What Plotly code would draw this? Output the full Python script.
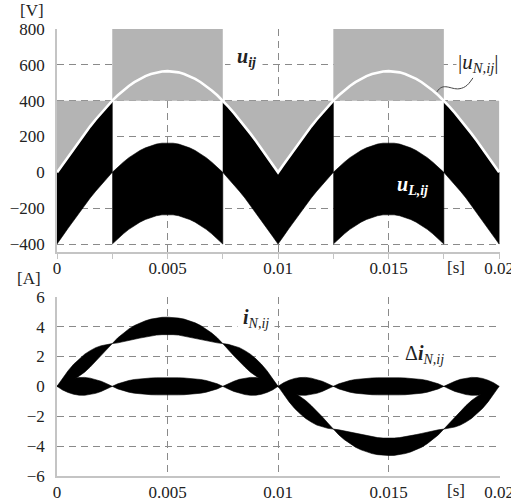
import numpy as np
import plotly.graph_objects as go

# ---------------- data ----------------
T_STEP = 0.00025  # sampling step of the readings [s]

# |u_N,ij| [V], one reading every 0.25 ms from 0 to 0.02 s
U_N = [0, 44, 88, 132, 175, 216, 257, 295, 332, 367, 400, 430, 457, 482, 503, 522, 537, 549, 558, 563,
       565, 563, 558, 549, 537, 522, 503, 482, 457, 430, 400, 367, 332, 295, 257, 216, 175, 132, 88, 44,
       0, 44, 88, 132, 175, 216, 257, 295, 332, 367, 400, 430, 457, 482, 503, 522, 537, 549, 558, 563,
       565, 563, 558, 549, 537, 522, 503, 482, 457, 430, 400, 367, 332, 295, 257, 216, 175, 132, 88, 44, 0]

# i_N,ij mean value [A]
I_N = [0, 0.32, 0.63, 0.95, 1.25, 1.55, 1.84, 2.12, 2.38, 2.63, 2.86, 3.08, 3.28, 3.45, 3.61, 3.74, 3.85, 3.94, 4.00, 4.04,
       4.05, 4.04, 4.00, 3.94, 3.85, 3.74, 3.61, 3.45, 3.28, 3.08, 2.86, 2.63, 2.38, 2.12, 1.84, 1.55, 1.25, 0.95, 0.63, 0.32,
       0, -0.32, -0.63, -0.95, -1.25, -1.55, -1.84, -2.12, -2.38, -2.63, -2.86, -3.08, -3.28, -3.45, -3.61, -3.74, -3.85, -3.94, -4.00, -4.04,
       -4.05, -4.04, -4.00, -3.94, -3.85, -3.74, -3.61, -3.45, -3.28, -3.08, -2.86, -2.63, -2.38, -2.12, -1.84, -1.55, -1.25, -0.95, -0.63, -0.32, 0]

# Delta i_N,ij ripple envelope (half width) [A]
DI_N = [0, 0.24, 0.41, 0.53, 0.59, 0.60, 0.55, 0.47, 0.34, 0.18, 0, 0.17, 0.29, 0.39, 0.46, 0.51, 0.54, 0.56, 0.57, 0.58,
        0.58, 0.58, 0.57, 0.56, 0.54, 0.51, 0.46, 0.39, 0.29, 0.17, 0, 0.18, 0.34, 0.47, 0.55, 0.60, 0.59, 0.53, 0.41, 0.24,
        0, 0.24, 0.41, 0.53, 0.59, 0.60, 0.55, 0.47, 0.34, 0.18, 0, 0.17, 0.29, 0.39, 0.46, 0.51, 0.54, 0.56, 0.57, 0.58,
        0.58, 0.58, 0.57, 0.56, 0.54, 0.51, 0.46, 0.39, 0.29, 0.17, 0, 0.18, 0.34, 0.47, 0.55, 0.60, 0.59, 0.53, 0.41, 0.24, 0]

# switching segments of u_ij: time bounds and voltage levels [V]
T_BOUNDS = [0, 0.0025, 0.0075, 0.0125, 0.0175, 0.02]
SEG_LOW = [0, 400, 0, 400, 0]
SEG_HIGH = [400, 800, 400, 800, 400]

X_TICKS = [0, 0.005, 0.01, 0.015, 0.02]
X_TICKTEXT = ["0", "0.005", "0.01", "0.015", "0.02"]
V_TICKS = [-400, -200, 0, 200, 400, 600, 800]
A_TICKS = [-6, -4, -2, 0, 2, 4, 6]

# ---------------- figure ----------------
W, H = 511, 504
ML, MR, MT, MB = 57, 11, 29, 28
PW, PH = W - ML - MR, H - MT - MB

def px(xp):
    return (xp - ML) / PW

def py(yp):
    return (H - MB - yp) / PH

FONT = "Liberation Serif, Times New Roman, serif"
GRID = "#8a8a8a"
AXL = "#c4c4c4"
BLACK = "#000000"
GRAY = "#b4b4b4"

t = np.round(np.arange(len(U_N)) * T_STEP, 6)
u = np.array(U_N, dtype=float)
i_n = np.array(I_N, dtype=float)
di = np.array(DI_N, dtype=float)

fig = go.Figure()

# grey u_ij blocks, black u_L blocks
for k in range(len(SEG_LOW)):
    t0, t1 = T_BOUNDS[k], T_BOUNDS[k + 1]
    lo, hi = SEG_LOW[k], SEG_HIGH[k]
    fig.add_trace(go.Scatter(x=[t0, t1, t1, t0, t0], y=[lo, lo, hi, hi, lo], mode="lines",
                             fill="toself", fillcolor=GRAY, line=dict(width=0, color=GRAY),
                             hoverinfo="skip", xaxis="x", yaxis="y"))
for k in range(len(SEG_LOW)):
    t0, t1 = T_BOUNDS[k], T_BOUNDS[k + 1]
    m = (t >= t0 - 1e-9) & (t <= t1 + 1e-9)
    ts = t[m]
    up = u[m] - SEG_LOW[k]
    dn = u[m] - SEG_HIGH[k]
    fig.add_trace(go.Scatter(x=np.concatenate([ts, ts[::-1]]), y=np.concatenate([up, dn[::-1]]),
                             mode="lines", fill="toself", fillcolor=BLACK,
                             line=dict(width=0.6, color=BLACK), hoverinfo="skip",
                             xaxis="x", yaxis="y"))
# |u_N,ij|
fig.add_trace(go.Scatter(x=t, y=u, mode="lines", line=dict(color="white", width=2.6),
                         hoverinfo="skip", xaxis="x", yaxis="y"))

# currents
fig.add_trace(go.Scatter(x=np.concatenate([t, t[::-1]]), y=np.concatenate([i_n + di, (i_n - di)[::-1]]),
                         mode="lines", fill="toself", fillcolor=BLACK, line=dict(width=0.6, color=BLACK),
                         hoverinfo="skip", xaxis="x2", yaxis="y2"))
fig.add_trace(go.Scatter(x=np.concatenate([t, t[::-1]]), y=np.concatenate([di, (-di)[::-1]]),
                         mode="lines", fill="toself", fillcolor=BLACK, line=dict(width=0.6, color=BLACK),
                         hoverinfo="skip", xaxis="x2", yaxis="y2"))

xcommon = dict(range=[0, 0.02004], tickvals=X_TICKS, ticktext=X_TICKTEXT, showgrid=True,
               gridcolor=GRID, gridwidth=1.3, griddash="7px,5px", zeroline=False,
               showline=True, linecolor=AXL, linewidth=1.5, automargin=False,
               ticklabelstandoff=-5, ticklabeloverflow="allow",
               tickfont=dict(family=FONT, size=17, color="#222"))
ycommon = dict(showgrid=True, gridcolor=GRID, gridwidth=1.3, griddash="7px,5px", zeroline=False,
               showline=True, linecolor=AXL, linewidth=1.5, ticks="", automargin=False,
               ticklabelstandoff=7,
               tickfont=dict(family=FONT, size=17, color="#222"))

fig.update_layout(
    width=W, height=H, margin=dict(l=ML, r=MR, t=MT, b=MB, autoexpand=False),
    paper_bgcolor="white", plot_bgcolor="white", showlegend=False,
    xaxis=dict(xcommon, domain=[0, 1], anchor="y", ticks="outside", ticklen=5, tickcolor=AXL,
               minor=dict(dtick=0.0025, tick0=0, ticks="outside", ticklen=5, tickcolor=AXL, showgrid=False)),
    yaxis=dict(ycommon, domain=[py(252.3), 1], anchor="x", range=[-446, 800], tickvals=V_TICKS),
    xaxis2=dict(xcommon, domain=[0, 1], anchor="y2", ticks="outside", ticklen=5, tickcolor="rgba(0,0,0,0)"),
    yaxis2=dict(ycommon, domain=[0, py(296.7)], anchor="x2", range=[-6, 6], tickvals=A_TICKS),
)

ann = []
unit_font = dict(family=FONT, size=17, color="#222")
C = dict(xanchor="center", yanchor="middle", showarrow=False)
ann.append(dict(C, text="[V]", x=px(32), y=py(10), xref="paper", yref="paper", font=unit_font))
ann.append(dict(C, text="[A]", x=px(29), y=py(278), xref="paper", yref="paper", font=unit_font))
ann.append(dict(C, text="[s]", x=px(456), y=py(267), xref="paper", yref="paper", font=unit_font))
ann.append(dict(C, text="[s]", x=px(456), y=py(490), xref="paper", yref="paper", font=unit_font))

lab = dict(family=FONT, size=20, color="#222")
ann.append(dict(C, text="<b><i>u</i></b><sub><b><i>ij</i></b></sub>", x=0.00858, y=640, xref="x", yref="y",
                font=lab, bgcolor="white", borderpad=6))
ann.append(dict(C, text="|<i>u</i><sub><i>N,ij</i></sub>|", x=0.01905, y=612, xref="x", yref="y",
                font=dict(family=FONT, size=21, color="#222"), bgcolor="white", borderpad=1))
ann.append(dict(C, text="<b><i>u</i></b><sub><b><i>L,ij</i></b></sub>", x=0.01609, y=-72, xref="x", yref="y",
                font=dict(family=FONT, size=20, color="white")))
ann.append(dict(C, text="<b><i>i</i></b><sub><i>N,ij</i></sub>", x=0.00899, y=4.57, xref="x2", yref="y2",
                font=lab, bgcolor="white", borderpad=5))
ann.append(dict(C, text="Δ<b><i>i</i></b><sub><i>N,ij</i></sub>", x=0.01663, y=2.16, xref="x2", yref="y2",
                font=lab, bgcolor="white", borderpad=6))
fig.update_layout(annotations=ann)

# leader line from |u_N,ij| curve to its label
def pxt(xp):
    return (xp - ML) / PW * 0.02004

def pyv(yp):
    return 800 - (yp - 29.3) / 0.1789

path = "M {},{} C {},{} {},{} {},{} C {},{} {},{} {},{}".format(
    pxt(437), pyv(92), pxt(443), pyv(82), pxt(451), pyv(90), pxt(459), pyv(89),
    pxt(466), pyv(88), pxt(469), pyv(84), pxt(473), pyv(78))
fig.add_shape(type="path", path=path, xref="x", yref="y", line=dict(color="#444", width=1))

fig.write_html("out.html", config={"displayModeBar": False},
               post_script="document.body.style.margin='0';document.body.style.overflow='hidden';")
